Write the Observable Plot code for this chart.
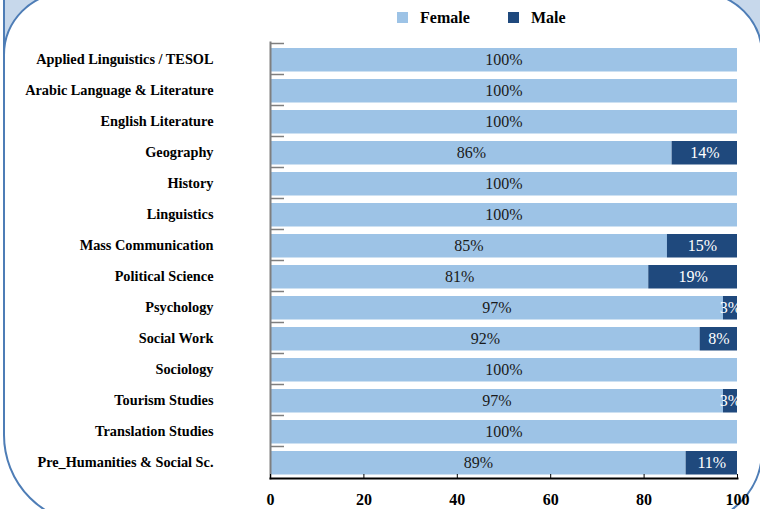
<!DOCTYPE html>
<html>
<head>
<meta charset="utf-8">
<script src="https://cdn.jsdelivr.net/npm/d3@7"></script>
<script src="https://cdn.jsdelivr.net/npm/@observablehq/plot@0.6"></script>
<style>
  body { margin: 0; background: white; }
  #wrap { position: relative; width: 760px; height: 509px; overflow: hidden; background: white; font-family: "Liberation Serif", "Times New Roman", serif; }
  .deco { position: absolute; }
  #tl { left: 3px; top: 0; width: 40px; height: 58px; background: #c7d8eb; border-left: 2.5px solid #4e7db6; box-sizing: border-box; }
  #tr { left: 720px; top: 0; width: 40px; height: 48px; background: #c7d8eb; }
  #frame { left: 3px; top: -8px; width: 760px; height: 533px; border: 2.5px solid #4e7db6; border-radius: 63px 63px 75px 90px; background: white; box-sizing: border-box; }
  #chart { position: absolute; left: 0; top: 0; }
  .sw { position: absolute; width: 11px; height: 11px; }
  .lt { position: absolute; font-weight: bold; font-size: 16px; line-height: 16px; color: #000; }
</style>
</head>
<body>
<div id="wrap">
  <div class="deco" id="tl"></div>
  <div class="deco" id="tr"></div>
  <div class="deco" id="frame"></div>
  <div id="chart"></div>
  <div class="sw" style="left:397px;top:12px;background:#9dc3e6"></div>
  <div class="lt" style="left:420px;top:10px">Female</div>
  <div class="sw" style="left:508px;top:12px;background:#1f497d"></div>
  <div class="lt" style="left:531px;top:10px">Male</div>
</div>
<script>
const programs = [
  "Applied Linguistics / TESOL",
  "Arabic Language & Literature",
  "English Literature",
  "Geography",
  "History",
  "Linguistics",
  "Mass Communication",
  "Political Science",
  "Psychology",
  "Social Work",
  "Sociology",
  "Tourism Studies",
  "Translation Studies",
  "Pre_Humanities & Social Sc."
];
const female = [100, 100, 100, 86, 100, 100, 85, 81, 97, 92, 100, 97, 100, 89];
const male   = [0, 0, 0, 14, 0, 0, 15, 19, 3, 8, 0, 3, 0, 11];
const series = ["Female", "Male"];
const colors = ["#9dc3e6", "#1f497d"];
const xTicks = [0, 20, 40, 60, 80, 100];

const rows = [
  ...programs.map((p, i) => ({program: p, sex: "Female", value: female[i]})),
  ...programs.map((p, i) => ({program: p, sex: "Male", value: male[i]}))
];

const font = '"Liberation Serif", "Times New Roman", serif';

const chart = Plot.plot({
  width: 760,
  height: 509,
  marginLeft: 270,
  marginRight: 23,
  marginTop: 42,
  marginBottom: 31,
  style: {background: "transparent", fontFamily: font, color: "#000"},
  x: {domain: [0, 100]},
  y: {domain: programs, padding: 0},
  color: {domain: series, range: colors},
  marks: [
    Plot.barX(rows, Plot.stackX({x: "value", y: "program", fill: "sex", insetTop: 5, insetBottom: 2.5})),
    Plot.text(rows, Plot.stackX({
      x: "value", y: "program", z: "sex",
      text: d => d.sex === "Female" && d.value > 0 ? d.value + "%" : null,
      fill: "#1a1a1a", fontSize: 16, dy: 0.5
    })),
    Plot.text(rows, Plot.stackX({
      x: "value", y: "program", z: "sex",
      text: d => d.sex === "Male" && d.value > 0 ? d.value + "%" : null,
      fill: "white", fontSize: 16, dy: 0.5, clip: true
    })),
    Plot.ruleY(programs, {y: d => d, x1: 0, x2: 3, stroke: "#7f7f7f", strokeWidth: 1.5, dy: -15.5}),
    Plot.frame({anchor: "left", stroke: "#7f7f7f", strokeWidth: 2}),
    Plot.frame({anchor: "bottom", stroke: "#000", strokeWidth: 2}),
    Plot.axisX(xTicks, {tickSize: 4, dy: -4, tickFormat: () => "", label: null, stroke: "#000"}),
    Plot.axisX(xTicks, {tickSize: 0, tickPadding: 15, label: null, fontSize: 16, fontWeight: "bold", fill: "#000"}),
    Plot.axisY({tickSize: 0, tickPadding: 57, label: null, fontSize: 14.3, fontWeight: "bold", fill: "#000"})
  ]
});
document.getElementById("chart").appendChild(chart);
</script>
</body>
</html>
